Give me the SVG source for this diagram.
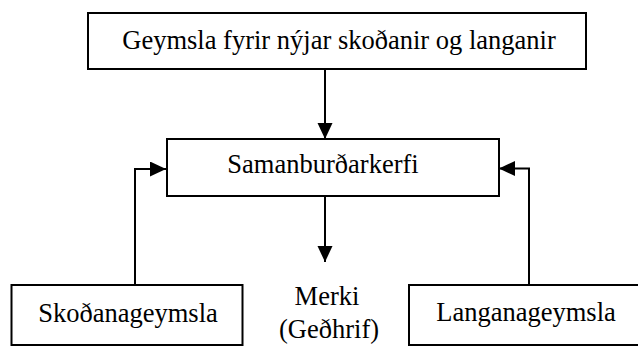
<svg xmlns="http://www.w3.org/2000/svg" width="638" height="356" viewBox="0 0 638 356">
  <style>
    .box { fill: #ffffff; stroke: #000000; stroke-width: 2; }
    .lbl { font-family: "Liberation Serif", "Times New Roman", serif; font-size: 26.5px; fill: #000000; text-anchor: middle; }
    .conn { fill: none; stroke: #000000; stroke-width: 2; }
  </style>
  <defs>
    <marker id="arrow" markerUnits="userSpaceOnUse" markerWidth="17" markerHeight="16" refX="16" refY="7.5" orient="auto">
      <path d="M0,0 L16,7.5 L0,15 Z" fill="#000000"/>
    </marker>
  </defs>
  <rect width="638" height="356" fill="#ffffff"/>
  <g id="connectors">
    <line class="conn" x1="325" y1="69" x2="325" y2="139" marker-end="url(#arrow)"/>
    <line class="conn" x1="325" y1="196" x2="325" y2="262" marker-end="url(#arrow)"/>
    <polyline class="conn" points="135,285 135,169 166,169" marker-end="url(#arrow)"/>
    <polyline class="conn" points="529,285 529,168.5 499,168.5" marker-end="url(#arrow)"/>
  </g>
  <g id="node-geymsla">
    <rect class="box" x="88" y="13" width="498" height="56"/>
    <text class="lbl" x="339" y="49">Geymsla fyrir nýjar skoðanir og langanir</text>
  </g>
  <g id="node-samanburdarkerfi">
    <rect class="box" x="167" y="139" width="332" height="57"/>
    <text class="lbl" x="323" y="173">Samanburðarkerfi</text>
  </g>
  <g id="node-skodanageymsla">
    <rect class="box" x="11.5" y="285" width="231" height="60"/>
    <text class="lbl" x="128" y="321.5">Skoðanageymsla</text>
  </g>
  <g id="node-langanageymsla">
    <rect class="box" x="409" y="285" width="240" height="60"/>
    <text class="lbl" x="526" y="321">Langanageymsla</text>
  </g>
  <g id="node-merki">
    <text class="lbl" x="327" y="305">Merki</text>
    <text class="lbl" x="329" y="338">(Geðhrif)</text>
  </g>
</svg>
